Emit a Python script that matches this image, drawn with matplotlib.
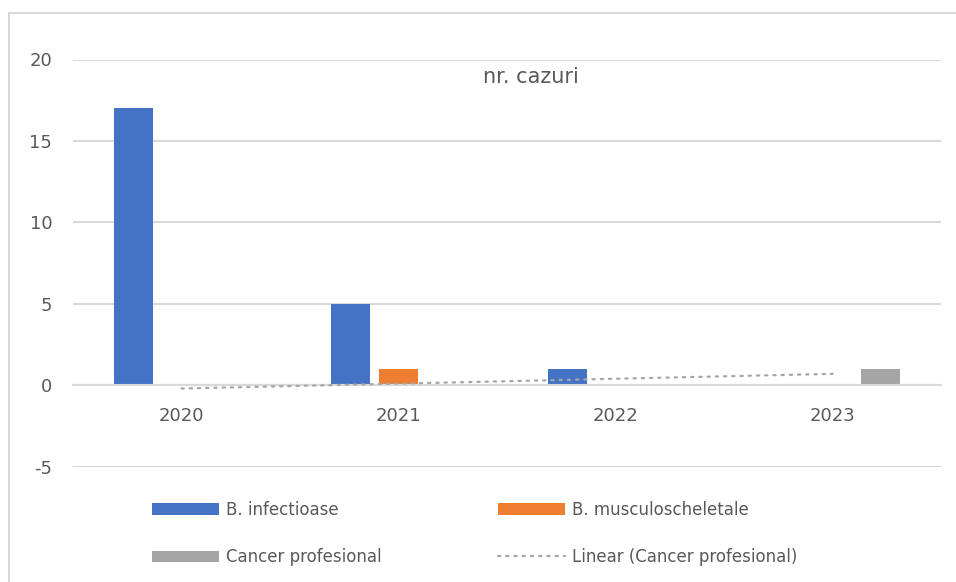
import numpy as np
import matplotlib
matplotlib.use("Agg")
import matplotlib.pyplot as plt
from matplotlib.patches import Rectangle

plt.rcParams["axes.unicode_minus"] = False

years = ["2020", "2021", "2022", "2023"]
infectioase = [17, 5, 1, 0]
musculoscheletale = [0, 1, 0, 0]
cancer = [0, 0, 0, 1]

BLUE = "#4472C4"
ORANGE = "#ED7D31"
GRAY = "#A5A5A5"
TEXT = "#595959"
GRID = "#D9D9D9"

W, H = 956, 582
fig = plt.figure(figsize=(W / 100, H / 100), dpi=100)
ax = fig.add_axes([73 / W, 1 - 466.7 / H, (941 - 73) / W, (466.7 - 59.5) / H])

x = np.arange(len(years))
bw = 0.177
step = 0.222
b1 = ax.bar(x - step, infectioase, bw, color=BLUE, linewidth=0, zorder=2, label="B. infectioase")
b2 = ax.bar(x, musculoscheletale, bw, color=ORANGE, linewidth=0, zorder=2, label="B. musculoscheletale")
b3 = ax.bar(x + step, cancer, bw, color=GRAY, linewidth=0, zorder=2, label="Cancer profesional")

# linear trend of the cancer series
coef = np.polyfit(x + 1, cancer, 1)
trend = np.polyval(coef, x + 1)
tl, = ax.plot(x, trend, color=GRAY, lw=1.6, linestyle=(0, (1, 2.7)),
              dash_capstyle="round", zorder=3, label="Linear (Cancer profesional)")

ax.set_xlim(-0.5, len(years) - 0.5)
ax.set_ylim(-5, 20)
ax.set_yticks([-5, 0, 5, 10, 15, 20])
ax.set_xticks(x)
ax.set_xticklabels(years)
ax.yaxis.grid(True, color=GRID, lw=1.5, zorder=0)
ax.set_axisbelow(True)
for s in ["top", "right", "left"]:
    ax.spines[s].set_visible(False)
ax.spines["bottom"].set_position(("data", 0))
ax.spines["bottom"].set_color(GRID)
ax.spines["bottom"].set_linewidth(1.5)
ax.tick_params(axis="y", length=0, pad=15, labelsize=13, labelcolor=TEXT)
ax.tick_params(axis="x", length=0, pad=16, labelsize=13, labelcolor=TEXT)

fig.text(531 / W, 1 - 77 / H, "nr. cazuri", ha="center", va="center",
         fontsize=15, color=TEXT)

leg_kw = dict(frameon=False, fontsize=12, labelcolor=TEXT, handlelength=4.0,
              handleheight=0.7, handletextpad=0.45, labelspacing=1.75,
              borderpad=0, borderaxespad=0, loc="upper left")
leg1 = fig.legend([b1, b3], ["B. infectioase", "Cancer profesional"],
                  bbox_to_anchor=(152 / W, 1 - 501 / H), **leg_kw)
leg2 = fig.legend([b2, tl], ["B. musculoscheletale", "Linear (Cancer profesional)"],
                  bbox_to_anchor=(498 / W, 1 - 501 / H), **leg_kw)

# chart border
fig.patches.append(Rectangle((9 / W, -0.05), 1.2, 1 - 13 / H + 0.05,
                             transform=fig.transFigure, fill=False,
                             edgecolor=GRID, lw=1.5))

fig.savefig("out.png", dpi=100)
